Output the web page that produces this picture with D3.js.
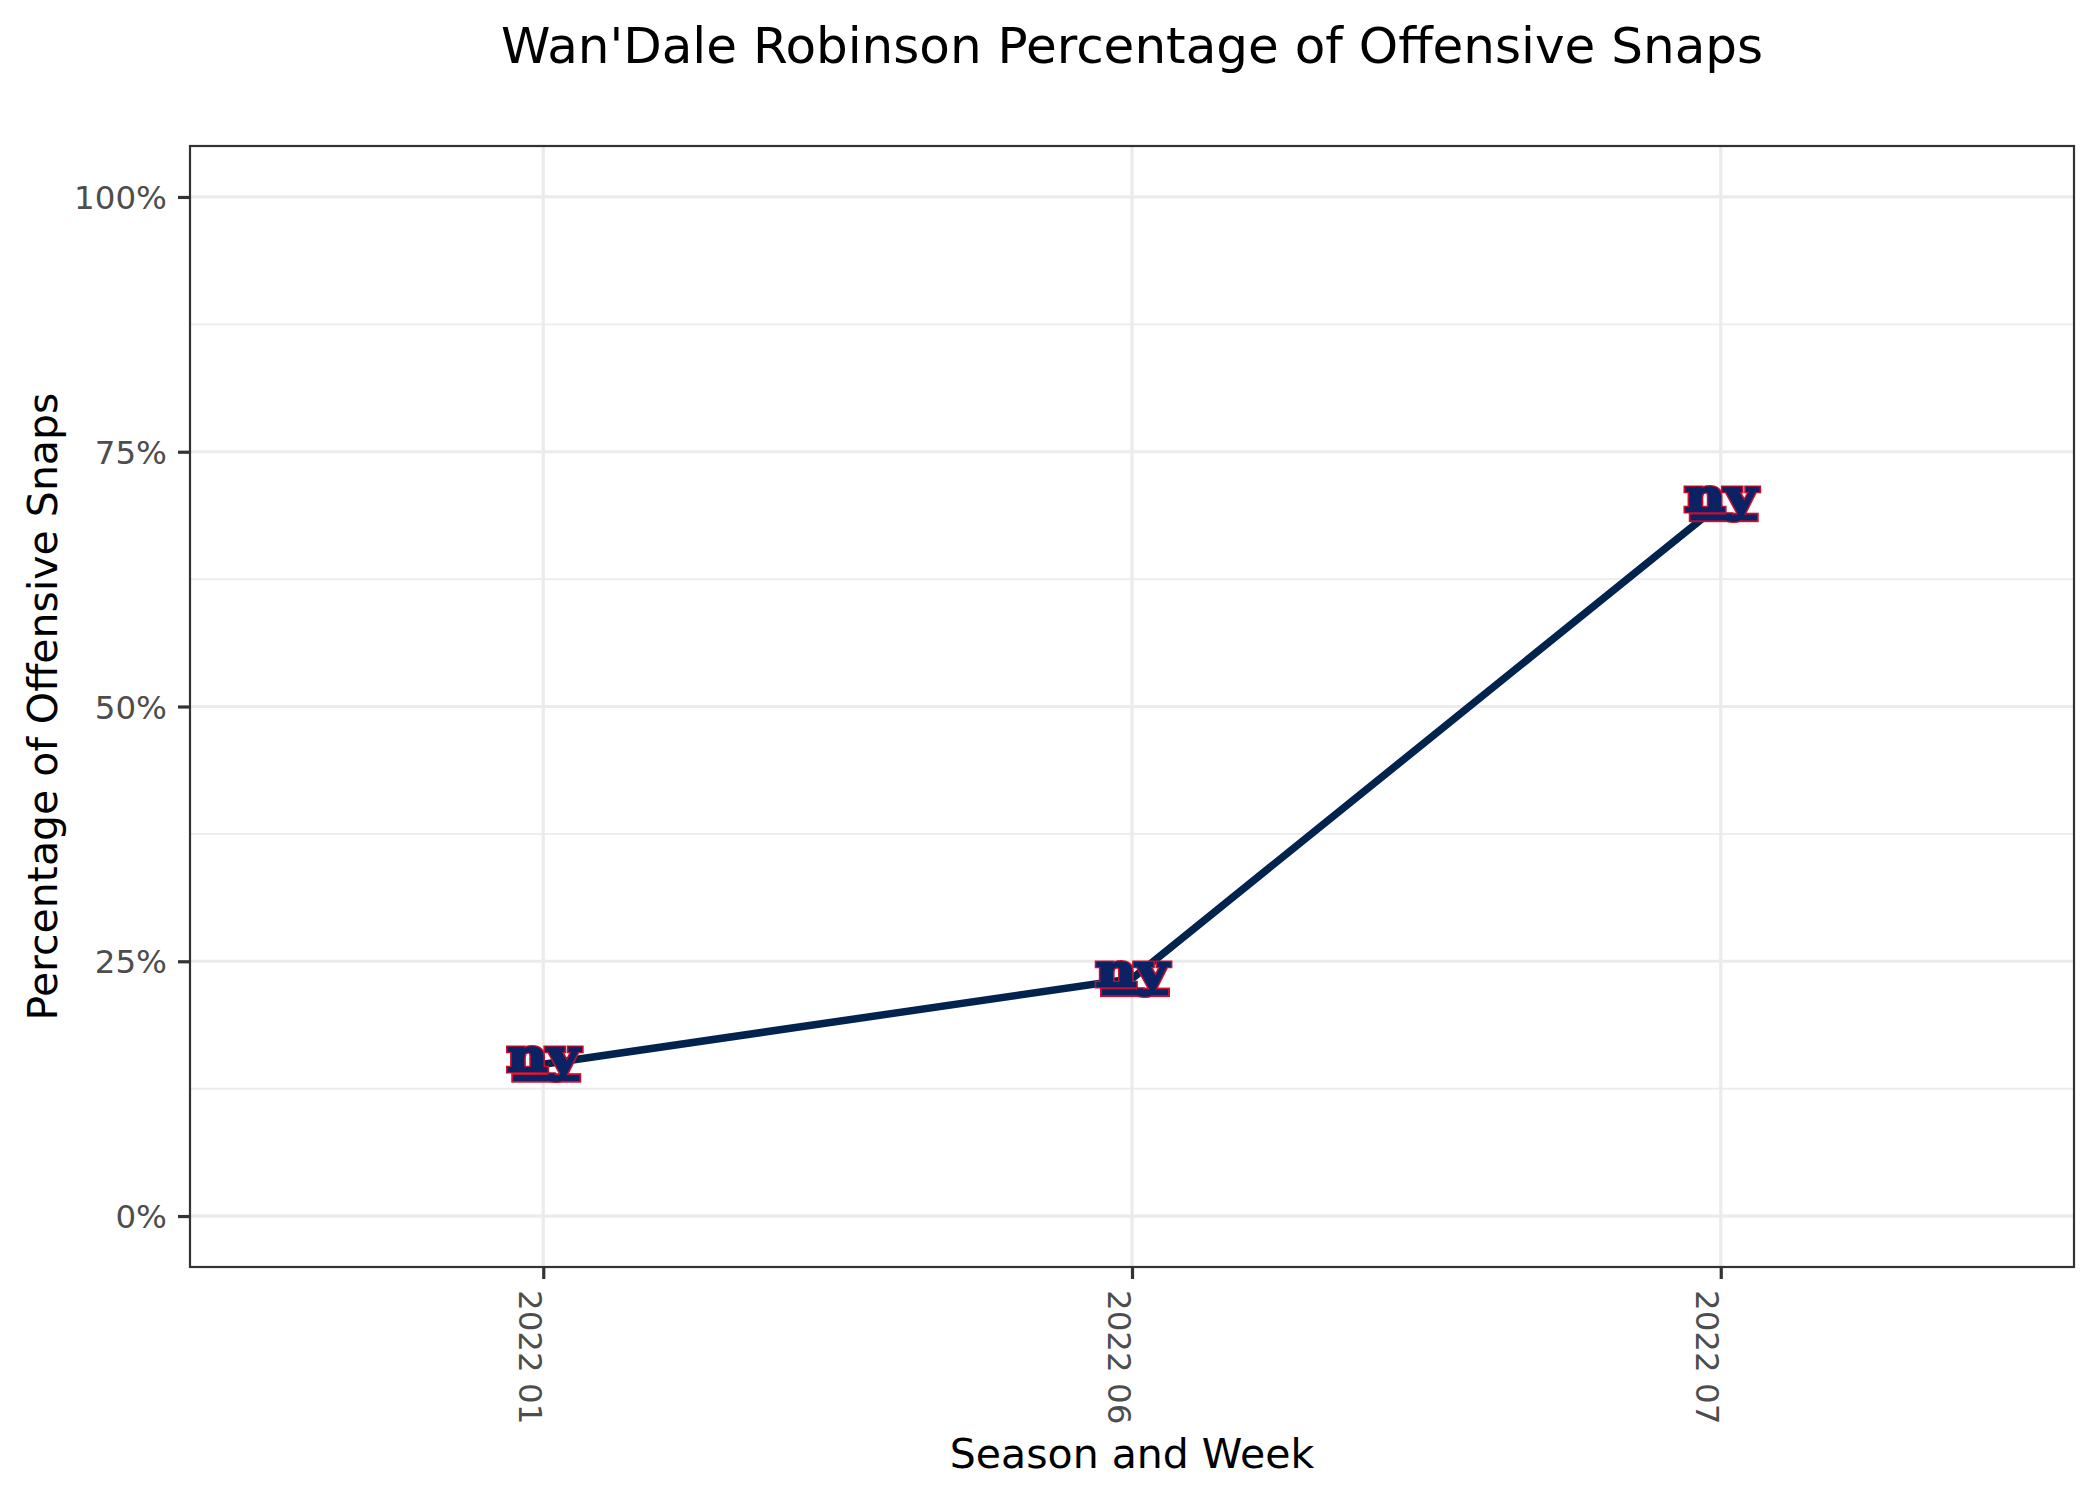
<!DOCTYPE html>
<html><head><meta charset="utf-8">
<script src="https://cdn.jsdelivr.net/npm/d3@7/dist/d3.min.js"></script>
<style>body{margin:0;background:#fff}svg{display:block}text{font-family:"DejaVu Sans",sans-serif}</style>
</head><body>
<script>
const weeks = ["2022 01", "2022 06", "2022 07"];
const snapPct = [14.9, 23.3, 69.9];
const yTicks = [0, 25, 50, 75, 100];
const yMinor = [12.5, 37.5, 62.5, 87.5];
const titleText = "Wan'Dale Robinson Percentage of Offensive Snaps";
const xTitle = "Season and Week";
const yTitle = "Percentage of Offensive Snaps";

const W = 2100, H = 1500;
const L = 190, R = 2074, T = 146, B = 1267;
const svg = d3.select("body").append("svg").attr("width", W).attr("height", H);

const x = d3.scalePoint().domain(weeks).range([L, R]).padding(0.6);
const y = d3.scaleLinear().domain([-5, 105]).range([B, T]);

// gridlines
const g = svg.append("g");
g.selectAll(".minor").data(yMinor).join("line")
  .attr("x1", L).attr("x2", R).attr("y1", d => y(d)).attr("y2", d => y(d))
  .attr("stroke", "#EBEBEB").attr("stroke-width", 1.6);
g.selectAll(".major").data(yTicks).join("line")
  .attr("x1", L).attr("x2", R).attr("y1", d => y(d)).attr("y2", d => y(d))
  .attr("stroke", "#EBEBEB").attr("stroke-width", 3.2);
g.selectAll(".vmajor").data(weeks).join("line")
  .attr("y1", T).attr("y2", B).attr("x1", d => x(d)).attr("x2", d => x(d))
  .attr("stroke", "#EBEBEB").attr("stroke-width", 3.2);

// line
const pts = weeks.map((w, i) => [x(w), y(snapPct[i])]);
svg.append("path").attr("d", d3.line()(pts))
  .attr("fill", "none").attr("stroke", "#03234F").attr("stroke-width", 7.5);

// logos
const logo = svg.selectAll(".logo").data(pts).join("g")
  .attr("transform", d => `translate(${d[0]},${d[1]})`);
function drawLetters(sel, stroke, sw) {
  sel.append("text").attr("x", -36).attr("y", 7).text("ny")
    .attr("font-weight", "bold").attr("font-size", 44)
    .attr("textLength", 72).attr("lengthAdjust", "spacingAndGlyphs")
    .attr("fill", "#0B2265").attr("stroke", stroke).attr("stroke-width", sw)
    .attr("stroke-linejoin", "miter")
    .style("font-family", "'DejaVu Serif',serif");
}
logo.append("rect").attr("x", -31).attr("y", 10).attr("width", 68).attr("height", 7.5)
  .attr("fill", "#0B2265").attr("stroke", "#C8102E").attr("stroke-width", 2);
drawLetters(logo, "#C8102E", 5);
drawLetters(logo, "#0B2265", 2.5);
logo.append("rect").attr("x", -30).attr("y", 11).attr("width", 66).attr("height", 5.5)
  .attr("fill", "#0B2265");

// panel border
svg.append("rect").attr("x", L).attr("y", T).attr("width", R - L).attr("height", B - T)
  .attr("fill", "none").attr("stroke", "#333333").attr("stroke-width", 2.2);

// y axis
const ya = svg.append("g").attr("transform", `translate(${L},0)`)
  .call(d3.axisLeft(y).tickValues(yTicks).tickFormat(d => d + "%").tickSize(12).tickPadding(11));
ya.select(".domain").remove();
ya.selectAll(".tick line").attr("stroke", "#333333").attr("stroke-width", 3.2);
ya.selectAll(".tick text").attr("fill", "#4D4D4D").attr("font-size", 32.5)
  .attr("font-family", "DejaVu Sans").attr("dy", "0.36em");

// x axis
const xa = svg.append("g").attr("transform", `translate(0,${B})`)
  .call(d3.axisBottom(x).tickSize(12).tickPadding(0));
xa.select(".domain").remove();
xa.selectAll(".tick line").attr("stroke", "#333333").attr("stroke-width", 3.2);
xa.selectAll(".tick text").attr("fill", "#4D4D4D").attr("font-size", 32.5)
  .attr("font-family", "DejaVu Sans").attr("text-anchor", "start")
  .attr("x", 0).attr("y", 0).attr("dy", 0)
  .attr("transform", "translate(0,23) rotate(90) translate(0,25)");

// titles
svg.append("text").attr("x", (L + R) / 2).attr("y", 63).attr("text-anchor", "middle")
  .attr("font-size", 50).attr("fill", "#000").text(titleText);
svg.append("text").attr("x", (L + R) / 2).attr("y", 1468).attr("text-anchor", "middle")
  .attr("font-size", 41).attr("fill", "#000").text(xTitle);
svg.append("text").attr("transform", `translate(57,${(T + B) / 2}) rotate(-90)`)
  .attr("text-anchor", "middle").attr("font-size", 41).attr("fill", "#000").text(yTitle);
</script>
</body></html>
